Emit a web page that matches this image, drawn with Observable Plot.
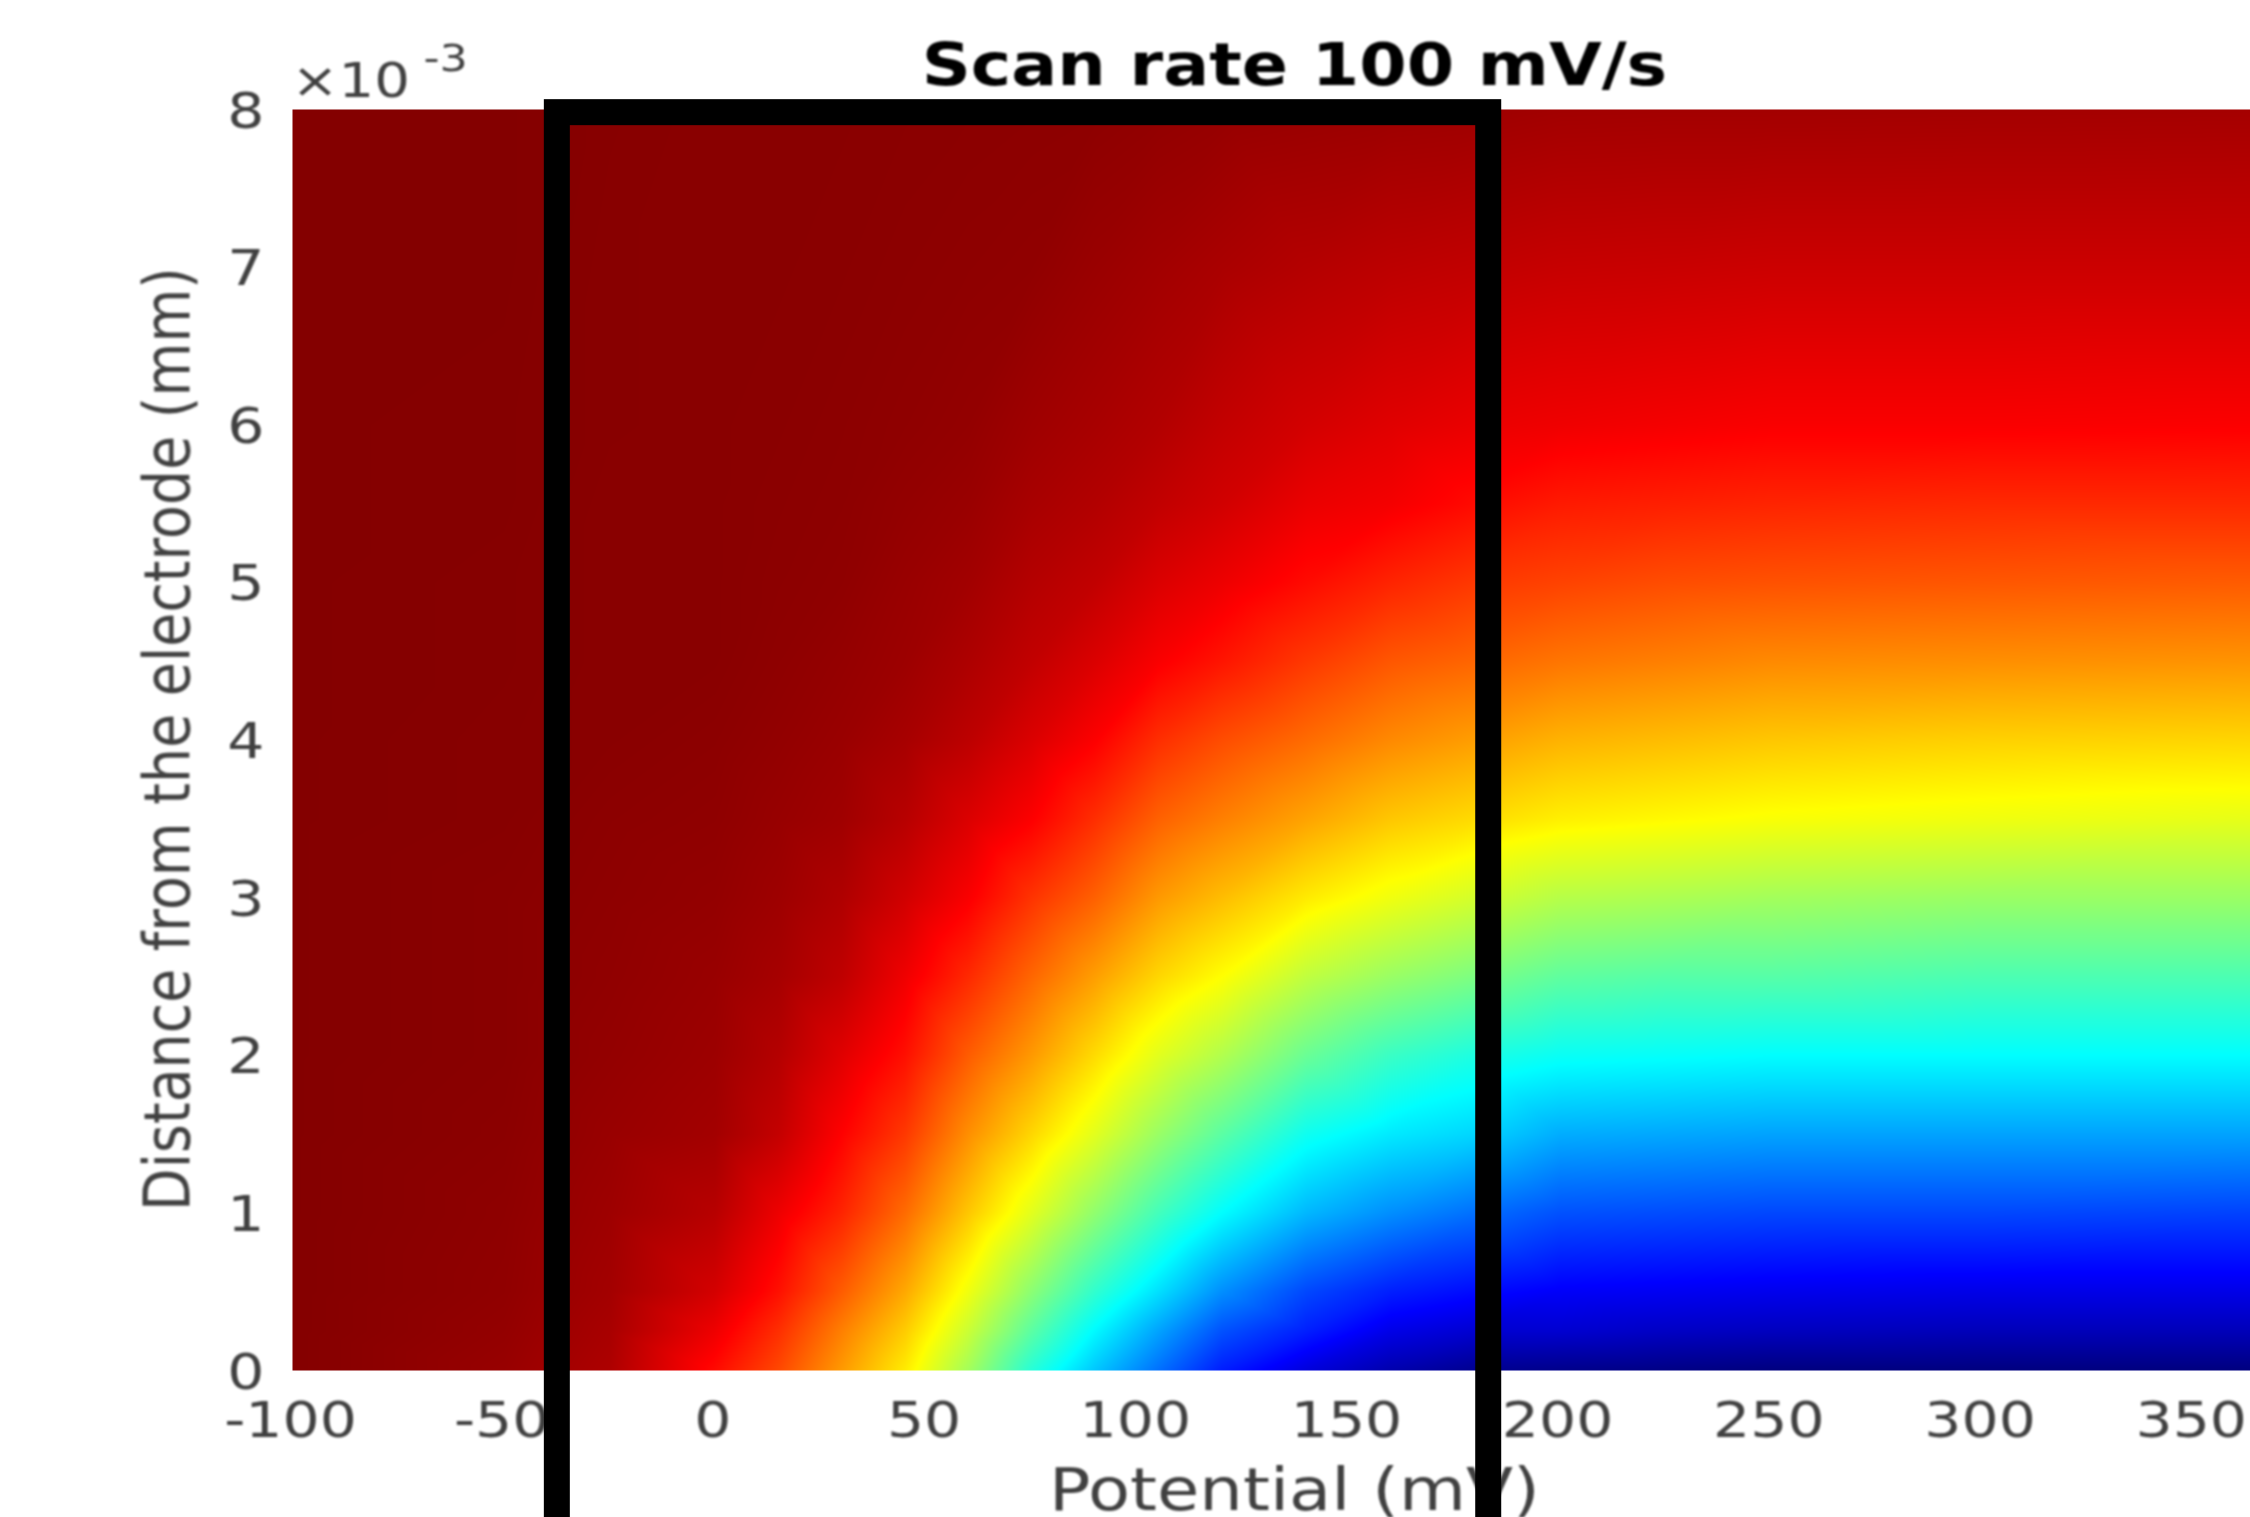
<!DOCTYPE html>
<html><head><meta charset="utf-8">
<script src="https://cdn.jsdelivr.net/npm/d3@7"></script>
<script src="https://cdn.jsdelivr.net/npm/@observablehq/plot@0.6"></script>
<style>html,body{margin:0;padding:0;background:#fff;overflow:hidden}svg text{filter:blur(.8px)}</style>
</head><body><div id="chart"></div>
<script>
// Distances (mm) for the rows of every potential column
const distances = [0,.00025,.0005,.001,.0015,.002,.0025,.003,.0035,.004,.0045,.005,.0055,.006,.007,.008];
// Normalised colour value, one list per potential (mV)
const potentials = [-100,-50,-25,0,15,30,45,60,75,90,105,120,140,160,180,200,225,250,300,364];
const vM100=[.995,.995,.995,.995,.995,.995,.995,.995,.995,.995,.995,.995,.995,.995,.995,.995];
const vM50=[.976,.98,.983,.985,.988,.99,.99,.99,.992,.992,.993,.993,.994,.994,.995,.995];
const vM25=[.955,.96,.965,.97,.975,.98,.983,.985,.987,.99,.99,.99,.99,.991,.991,.992];
const v0=[.865,.891,.917,.945,.965,.971,.975,.98,.984,.987,.99,.99,.99,.99,.99,.99];
const v15=[.805,.83,.86,.892,.933,.948,.962,.97,.976,.981,.985,.987,.988,.989,.99,.99];
const v30=[.724,.75,.785,.84,.875,.905,.9375,.953,.968,.974,.979,.984,.986,.987,.989,.99];
const v45=[.644,.675,.71,.77,.82,.86,.89,.92,.945,.961,.971,.975,.98,.984,.987,.989];
const v60=[.53,.57,.61,.68,.735,.785,.835,.88,.91,.94,.955,.966,.974,.98,.985,.988];
const v75=[.40,.455,.505,.595,.665,.725,.775,.825,.877,.91,.935,.948,.96,.969,.983,.987];
const v90=[.305,.355,.41,.51,.595,.66,.72,.78,.83,.877,.91,.935,.95,.96,.974,.986];
const v105=[.22,.27,.33,.43,.52,.595,.665,.725,.78,.83,.88,.91,.935,.95,.966,.982];
const v120=[.138,.19,.25,.36,.455,.545,.625,.69,.75,.80,.855,.892,.92,.934,.958,.978];
const v140=[.08,.14,.18,.29,.375,.47,.56,.645,.715,.77,.82,.865,.895,.918,.948,.975];
const v160=[.04,.09,.14,.25,.34,.42,.52,.61,.68,.74,.79,.84,.885,.905,.94,.972];
const v180=[.015,.07,.12,.22,.32,.39,.49,.58,.66,.72,.775,.82,.865,.895,.935,.97];
const v200=[.01,.07,.105,.19,.28,.37,.46,.55,.64,.70,.76,.81,.85,.89,.93,.966];
const v225=[.005,.06,.10,.185,.275,.365,.45,.54,.63,.69,.75,.80,.845,.885,.928,.965];
const v250=[0,.055,.095,.18,.27,.36,.45,.53,.62,.68,.74,.795,.84,.88,.925,.965];
const v300=[0,.05,.09,.18,.27,.36,.44,.52,.61,.67,.735,.79,.835,.88,.925,.964];
const v364=[0,.05,.09,.175,.27,.36,.44,.52,.60,.665,.73,.785,.835,.878,.925,.963];
const columns=[vM100,vM50,vM25,v0,v15,v30,v45,v60,v75,v90,v105,v120,v140,v160,v180,v200,v225,v250,v300,v364];

const jetStops=[0,.11,.36,.625,.875,1];
const jetColors=["#00007f","#0000ff","#00ffff","#ffff00","#ff0000","#7f0000"];
const xTicks=[-100,-50,0,50,100,150,200,250,300,350];
const yTicks=[0,.001,.002,.003,.004,.005,.006,.007,.008];
const highlight=[{x1:-37.3,x2:183.2,y1:-.002,y2:.00798}];

const cells=[];
potentials.forEach((p,i)=>distances.forEach((d,j)=>cells.push({p,d,v:columns[i][j]})));

const plot=Plot.plot({
  width:2250,height:1517,marginLeft:292,marginRight:0,marginTop:109,marginBottom:147,
  style:{background:"#fff"},
  x:{domain:[-100,363.55],label:null},
  y:{domain:[0,.008],label:null},
  color:{type:"linear",domain:jetStops,range:jetColors,interpolate:"rgb"},
  marks:[
    Plot.raster(cells,{x:"p",y:"d",fill:"v",interpolate:"barycentric",pixelSize:1,x1:-100,x2:363.55,y1:0,y2:.008}),
    Plot.axisX({ticks:xTicks,tickSize:0,tickPadding:31,dx:-2,fontSize:50,fontFamily:"DejaVu Sans",color:"#404040",label:null,tickFormat:d=>String(d)}),
    Plot.axisY({ticks:yTicks,tickSize:0,tickPadding:28,dy:2,fontSize:50,fontFamily:"DejaVu Sans",color:"#404040",label:null,tickFormat:d=>String(Math.round(d*1000))}),
    Plot.text(["Scan rate 100 mV/s"],{x:()=>137.2,y:()=>.008,dy:-43,fontSize:58.3,fontWeight:"bold",fontFamily:"DejaVu Sans",fill:"#000",text:d=>d}),
    Plot.text(["Potential (mV)"],{x:()=>137.2,y:()=>0,dy:121,fontSize:58.8,fontFamily:"DejaVu Sans",fill:"#404040",text:d=>d}),
    Plot.text(["Distance from the electrode (mm)"],{x:()=>-100,y:()=>.004006,dx:-124,rotate:-90,fontSize:55.4,fontFamily:"DejaVu Sans",fill:"#404040",text:d=>d}),
    Plot.text(["×10"],{x:()=>-100,y:()=>.008,dx:-1,dy:-28,textAnchor:"start",fontSize:48,fontFamily:"DejaVu Sans",fill:"#404040",text:d=>d}),
    Plot.text(["-3"],{x:()=>-100,y:()=>.008,dx:131,dy:-51,textAnchor:"start",fontSize:38,fontFamily:"DejaVu Sans",fill:"#404040",text:d=>d}),
    Plot.rect(highlight,{x1:"x1",x2:"x2",y1:"y1",y2:"y2",fill:"none",stroke:"#000",strokeWidth:26})
  ]
});
document.getElementById("chart").appendChild(plot);
// the reference image is stretched horizontally
plot.querySelectorAll("text").forEach(t=>{
  const tr=t.getAttribute("transform");
  if(tr&&tr.includes(")")) t.setAttribute("transform",tr.replace(")",") scale(1.17,1)"));
  else t.setAttribute("transform","scale(1.17,1)");
});
</script></body></html>
